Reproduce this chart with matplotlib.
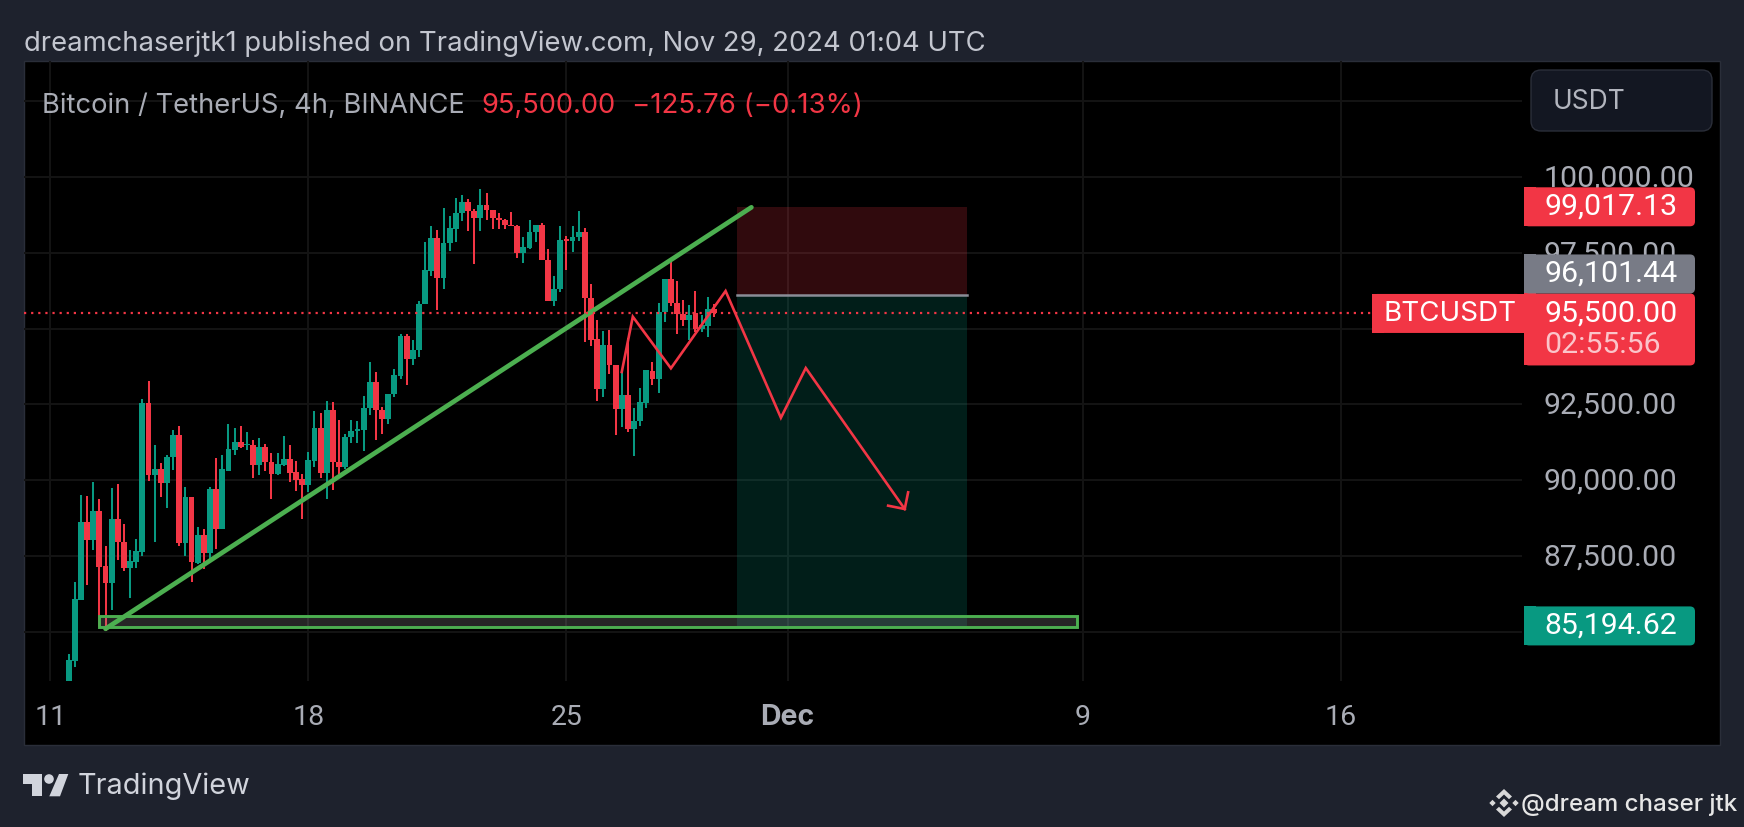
import matplotlib
matplotlib.use("Agg")
import matplotlib.pyplot as plt
from matplotlib.patches import Rectangle, FancyBboxPatch, Polygon, Circle
from matplotlib.transforms import IdentityTransform, ScaledTranslation

W, H = 1744, 828
plt.rcParams['font.family'] = ['Inter', 'DejaVu Sans']
NUM_FONT = ['Roboto', 'DejaVu Sans']

BG = '#1e222d'; UP = '#089981'; DOWN = '#f23645'; DRAW_GREEN = '#4caf50'

# 4h candles; the first bar sits three bars after the "11" date tick
first_bar = 3
opens = [82675,84050,86063,88626,88032,88989,87163,86613,88714,87955,87108,87317,87647,92553,90177,90364,89924,90760,91497,87933,89451,87273,88197,87603,89726,88406,
         90320,91002,91255,91145,91167,90507,91101,90595,90199,90507,90694,90265,90045,89847,90639,91717,90243,92322,90606,90430,91420,91607,91640,92388,93235,
         92322,92025,92850,93433,94742,93983,94280,95798,96898,97998,96656,97833,98295,98823,99186,98889,98658,99087,98900,98658,98592,98427,98394,97503,97657,98174,
         98427,97272,95897,96293,97943,97899,98020,98196,95996,94665,92993,94456,93796,92333,92806,91673,91959,92553,93598,93345,95534,96634,95853,95468,95270,95501,94984,95094,95655]
highs = [84259,86635,89517,89473,89935,89374,87834,89748,89880,88560,87702,88076,92685,93268,91167,90573,90848,91662,91794,89781,89451,88450,88384,89781,90727,90848,
         91838,91717,91794,91585,91332,91398,91178,90903,90903,91464,91167,90639,90210,90925,92289,92223,92608,92575,91992,91519,91981,91948,92773,93895,93565,
         92410,92850,93675,94830,94830,94610,95908,97855,98394,98251,98977,98724,99318,99406,99263,98955,99604,99483,98911,98812,98625,98856,98416,98020,98581,98427,
         98493,97613,96744,98383,98053,98383,98889,98317,96480,95292,94918,94962,93796,93554,94687,92377,93037,93642,93895,95842,96634,97195,96568,95930,95787,96238,95457,96040,95820]
lows = [82455,83841,86063,86547,87702,85150,85040,85733,87372,87020,86129,87097,87493,89968,87977,89462,89099,90342,87834,87515,86657,87240,87075,87383,87746,88406,
        90320,90848,91057,91002,90067,90188,90298,89385,90177,90485,89946,89660,88725,89616,90452,90067,89385,89682,90210,90375,91233,91211,90980,92157,91332,
        91519,91838,92740,93323,93147,93785,94060,95798,96722,95622,96304,97547,97855,98537,98229,97140,98229,98570,98295,98295,98295,98383,97338,97162,97635,97855,
        97272,95897,95743,96194,96920,97514,97888,94544,94423,92608,92740,93510,91475,91739,91574,90815,91794,92388,93125,92861,95215,95743,94830,95083,94632,94885,94885,94720,95391]
closes = [84061,86085,88626,88043,88989,87152,86613,88714,87955,87108,87339,87669,92553,90177,90364,89924,90771,91497,87933,89451,87295,88197,87603,89726,88406,90364,
          91024,91255,91101,91189,90507,91101,90595,90210,90540,90694,90243,90012,89847,90661,91717,90243,92322,90606,90452,91420,91607,91684,92388,93235,92311,
          92025,92850,93477,94742,93983,94280,95798,96920,97998,96656,97833,98317,98823,99186,98867,98658,99087,98900,98658,98570,98405,98394,97503,97690,98196,98427,
          97272,95897,96304,97921,97899,98031,98196,95996,94632,92993,94456,93785,92333,92806,91673,91959,92586,93620,93345,95545,96634,95831,95468,95270,95457,94984,95127,95655,95500]

price_ticks = [85000, 87500, 90000, 92500, 95000, 97500, 100000, 102500]
price_labels = ['', '87,500.00', '90,000.00', '92,500.00', '', '97,500.00', '100,000.00', '']
date_ticks = [0, 42, 84, 120, 168, 210]
date_labels = ['11', '18', '25', 'Dec', '9', '16']

last_price = 95500.00
stop_price = 99017.13
entry_price = 96101.44
target_price = 85194.62

position_x = [111.7, 149.2]
trend_x = [9.0, 114.1]
trend_y = [85100, 99000]
zone_x = [8.0, 167.1]
zone_y = [85159, 85532]
path_x = [93.0, 94.8, 101.0, 109.9, 118.9, 122.95, 139.05]
path_y = [93569, 95393, 93691, 96240, 92060, 93700, 89050]
head_x = [136.35, 139.05, 139.6]
head_y = [89160, 89050, 89600]

fig = plt.figure(figsize=(W / 100, H / 100), dpi=100, facecolor=BG)


def box(x0, y0, x1, y1):
    return [x0 / W, 1 - y1 / H, (x1 - x0) / W, (y1 - y0) / H]


# black pane behind everything
fig.add_artist(Rectangle((24 / W, 1 - 746 / H), 1696 / W, 684 / H, transform=fig.transFigure,
                         facecolor='black', edgecolor='#2a2e39', lw=1, zorder=-1))

ax = fig.add_axes(box(24, 62, 1522, 682), facecolor='none')
ax.set_xlim(-4.27, 239.5)
ax.set_ylim(83378, 103826)
for s in ax.spines.values():
    s.set_visible(False)
ax.yaxis.tick_right()
ax.set_yticks(price_ticks)
ax.set_yticklabels(price_labels, family=NUM_FONT)
ax.set_xticks(date_ticks)
ax.set_xticklabels(date_labels, family=NUM_FONT)
ax.tick_params(axis='y', length=0, pad=15.5, labelsize=21.8, labelcolor='#a9acb5')
ax.tick_params(axis='x', length=0, pad=16, labelsize=20.5, labelcolor='#a9acb5')
for lab in ax.get_xticklabels():
    if lab.get_text() == 'Dec':
        lab.set_fontweight('bold')
        lab.set_family(plt.rcParams['font.family'])
for lab in ax.get_yticklabels():
    lab.set_transform(lab.get_transform() + ScaledTranslation(0, 2.5 / 100, fig.dpi_scale_trans))
ax.grid(True, color='#131313', lw=1.5)
ax.set_axisbelow(True)

# candles
for i, (o, h, l, c) in enumerate(zip(opens, highs, lows, closes)):
    col = UP if c >= o else DOWN
    xx = first_bar + i
    ax.vlines(xx, l, h, color=col, lw=1.45, zorder=3)
    ax.bar(xx, abs(c - o), bottom=min(o, c), width=0.95, color=col, lw=0, zorder=3)

# short-position tool
ax.fill_between(position_x, entry_price, stop_price, color=DOWN, alpha=0.2, lw=0, zorder=4)
ax.fill_between(position_x, target_price, entry_price, color=UP, alpha=0.2, lw=0, zorder=4)
ax.plot(position_x, [entry_price, entry_price], color='#8a8d97', lw=1.8, zorder=4)

# support zone
ax.add_patch(Rectangle((zone_x[0], zone_y[0]), zone_x[1] - zone_x[0], zone_y[1] - zone_y[0],
                       facecolor=(0.6, 0.6, 0.6, 0.25), edgecolor=DRAW_GREEN, lw=2.1, zorder=4))

# drawings
ax.plot(trend_x, trend_y, color=DRAW_GREEN, lw=3.4, solid_capstyle='round', zorder=5)
ax.plot(path_x, path_y, color=DOWN, lw=1.9, solid_joinstyle='miter', zorder=6)
ax.plot(head_x, head_y, color=DOWN, lw=1.9, solid_joinstyle='miter', zorder=6)
ax.axhline(last_price, color=DOWN, lw=1.6, ls=(0, (1, 2.2)), zorder=6)


def T(x, y, s, **kw):
    kw.setdefault('va', 'center')
    kw.setdefault('ha', 'left')
    return fig.text(x / W, 1 - y / H, s, zorder=10, **kw)


# header and legend
T(24, 43.5, 'dreamchaserjtk1 published on TradingView.com, Nov 29, 2024 01:04 UTC', fontsize=19.75, color='#c3c6cf')
T(42, 106, 'Bitcoin / TetherUS, 4h, BINANCE', fontsize=19.7, color='#a9acb5')
T(481.5, 106, '95,500.00', fontsize=19.6, color=DOWN)
T(632, 106, '\u2212125.76 (\u22120.13%)', fontsize=19.9, color=DOWN)


def pane_y(price):
    return H - ax.transData.transform((0, price))[1]


def label(y0, y1, col, x0=1524, x1=1695):
    fig.add_artist(FancyBboxPatch((x0 + 5, H - y1 + 5), x1 - x0 - 10, y1 - y0 - 10,
                                  boxstyle='round,pad=5,rounding_size=5', transform=IdentityTransform(),
                                  facecolor=col, edgecolor='none', zorder=8))
    fig.add_artist(Rectangle((x0, H - y1), 12, y1 - y0, transform=IdentityTransform(),
                             facecolor=col, edgecolor='none', zorder=8))


# price-axis labels
VAL = dict(fontsize=21.8, color='white', family=NUM_FONT)
ys = pane_y(stop_price)
label(ys - 19.5, ys + 19.5, DOWN)
T(1544, ys - 1, f'{stop_price:,.2f}', **VAL)
yt = pane_y(target_price)
label(yt - 19.5, yt + 19.5, UP)
T(1544, yt - 1, f'{target_price:,.2f}', **VAL)
yl = pane_y(last_price)
label(yl - 20, yl + 52, DOWN)
T(1544, yl - 1, f'{last_price:,.2f}', **VAL)
T(1544, yl + 31, '02:55:56', fontsize=21.8, color='#fbc5ca', family=NUM_FONT)
# the entry label is pushed up so that it rests on the last-price label
label(yl - 59, yl - 20, '#787b86')
T(1544, yl - 40.5, f'{entry_price:,.2f}', **VAL)
label(yl - 19.5, yl + 19.5, DOWN, x0=1372, x1=1522)
fig.add_artist(Rectangle((1510, H - yl - 19.5), 16, 39, transform=IdentityTransform(), facecolor=DOWN, edgecolor='none', zorder=8))
T(1383, yl, 'BTCUSDT', fontsize=20, color='white')

# currency button
fig.add_artist(FancyBboxPatch((1539, H - 124), 165, 45, boxstyle='round,pad=8,rounding_size=10',
                              transform=IdentityTransform(), facecolor='#131722', edgecolor='#2a2e39', lw=1, zorder=8))
T(1553, 102, 'USDT', fontsize=19, color='#b2b5be')

# TradingView logo and wordmark
LOGO = '#d1d4dc'
def px(pts):
    return [(x, H - y) for x, y in pts]
fig.add_artist(Polygon(px([(23.3, 775), (41.7, 775), (41.7, 797.3), (31.7, 797.3), (31.7, 785), (23.3, 785)]),
                       transform=IdentityTransform(), facecolor=LOGO, edgecolor='none', zorder=8))
fig.add_artist(Circle((49, H - 780), 4.8, transform=IdentityTransform(), facecolor=LOGO, edgecolor='none', zorder=8))
fig.add_artist(Polygon(px([(59, 775), (68.3, 775), (60, 797.3), (49.3, 797.3)]),
                       transform=IdentityTransform(), facecolor=LOGO, edgecolor='none', zorder=8))
T(77.5, 786, 'TradingView', fontsize=20.8, color=LOGO)

# Binance-style icon and handle
ICON = '#d8d8d8'; cx, cy = 1504, 804
def diamond(x, y, r):
    return px([(x - r, y), (x, y - r), (x + r, y), (x, y + r)])
for d in (diamond(cx, cy, 4.5), diamond(cx - 11.5, cy, 3.2), diamond(cx + 11.5, cy, 3.2)):
    fig.add_artist(Polygon(d, transform=IdentityTransform(), facecolor=ICON, edgecolor='none', zorder=8))
for sgn in (-1, 1):
    chev = [(cx, cy + sgn * 14), (cx + 8, cy + sgn * 6.5), (cx + 5, cy + sgn * 3.8), (cx, cy + sgn * 8.5),
            (cx - 5, cy + sgn * 3.8), (cx - 8, cy + sgn * 6.5)]
    fig.add_artist(Polygon(px(chev), transform=IdentityTransform(), facecolor=ICON, edgecolor='none', zorder=8))
T(1521, 805, '@dream chaser jtk', fontsize=17.3, color='#e6e6e6', fontweight='medium')

fig.savefig('out.png', dpi=100, facecolor=BG)
